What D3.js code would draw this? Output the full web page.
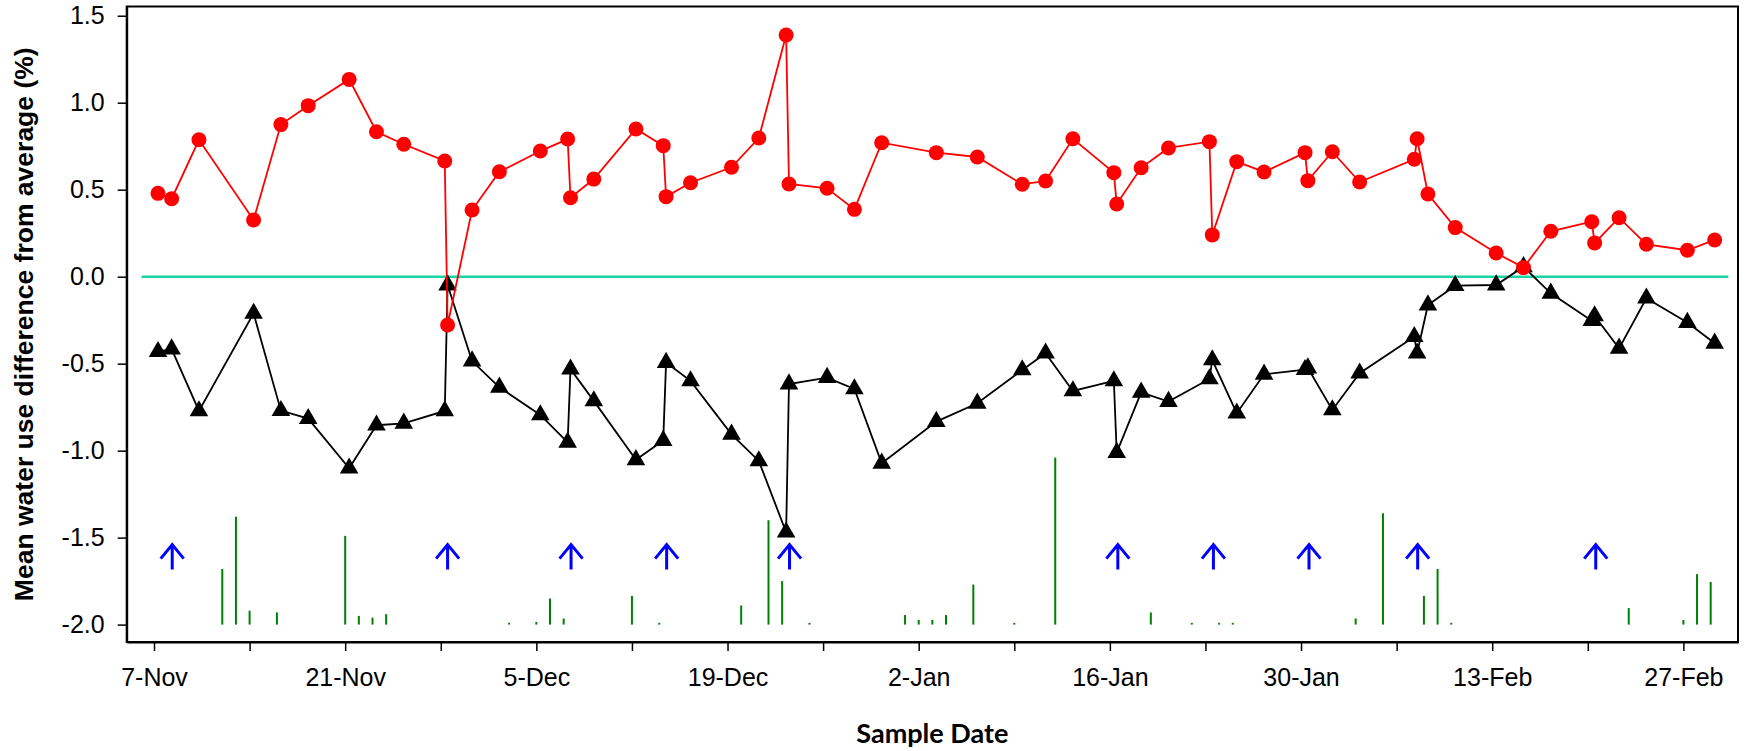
<!DOCTYPE html>
<html>
<head>
<meta charset="utf-8">
<script src="https://cdn.jsdelivr.net/npm/d3@7"></script>
<style>
body { margin: 0; background: #fff; }
</style>
</head>
<body>
<div id="contenedor"></div>
<script>

// fechas de muestreo, compartidas por las dos series
var fechas = [
  "2011-11-07 07:00","2011-11-08 07:00","2011-11-10 07:00","2011-11-14 07:00","2011-11-16 07:00",
  "2011-11-18 07:00","2011-11-21 07:00","2011-11-23 07:00","2011-11-25 07:00","2011-11-28 07:00",
  "2011-11-28 12:00","2011-11-30 07:00","2011-12-02 07:00","2011-12-05 07:00","2011-12-07 07:00",
  "2011-12-07 12:00","2011-12-09 05:00","2011-12-12 07:00","2011-12-14 07:00","2011-12-14 12:00",
  "2011-12-16 07:00","2011-12-19 07:00","2011-12-21 07:00","2011-12-23 07:00","2011-12-23 12:00",
  "2011-12-26 07:00","2011-12-28 07:00","2011-12-30 07:00","2012-01-03 07:00","2012-01-06 07:00",
  "2012-01-09 14:00","2012-01-11 07:00","2012-01-13 07:00","2012-01-16 07:00","2012-01-16 12:00",
  "2012-01-18 07:00","2012-01-20 07:00","2012-01-23 07:00","2012-01-23 12:00","2012-01-25 07:00",
  "2012-01-27 07:00","2012-01-30 07:00","2012-01-30 12:00","2012-02-01 07:00","2012-02-03 07:00",
  "2012-02-07 07:00","2012-02-07 12:00","2012-02-08 07:00","2012-02-10 07:00","2012-02-13 07:00",
  "2012-02-15 07:00","2012-02-17 07:00","2012-02-20 07:00","2012-02-20 12:00","2012-02-22 07:00",
  "2012-02-24 07:00","2012-02-27 07:00","2012-02-29 07:00"
]

// serie roja (circulos)
var serieRoja = [
  0.479, 0.448, 0.787, 0.326, 0.874, 0.983, 1.134, 0.833, 0.761, 0.665,
  -0.278, 0.383, 0.603, 0.722, 0.791, 0.454, 0.561, 0.849, 0.753, 0.460,
  0.540, 0.629, 0.797, 1.389, 0.533, 0.508, 0.387, 0.770, 0.713, 0.688,
  0.531, 0.550, 0.793, 0.598, 0.418, 0.626, 0.740, 0.776, 0.240, 0.661,
  0.602, 0.713, 0.552, 0.718, 0.544, 0.675, 0.793, 0.475, 0.282, 0.136,
  0.052, 0.261, 0.316, 0.194, 0.339, 0.186, 0.152, 0.211
]

// serie negra (triangulos)
var serieNegra = [
  -0.431, -0.416, -0.772, -0.211, -0.770, -0.816, -1.101, -0.854, -0.843, -0.772,
  -0.048, -0.485, -0.636, -0.795, -0.952, -0.532, -0.714, -1.053, -0.942, -0.494,
  -0.599, -0.906, -1.059, -1.469, -0.617, -0.580, -0.645, -1.073, -0.833, -0.728,
  -0.536, -0.440, -0.657, -0.599, -1.011, -0.665, -0.718, -0.588, -0.479, -0.785,
  -0.561, -0.535, -0.525, -0.766, -0.555, -0.345, -0.440, -0.163, -0.052, -0.048,
  0.057, -0.096, -0.253, -0.226, -0.412, -0.124, -0.264, -0.383
]

// lluvia diaria (altura de la barra, centesimas de unidad del eje)
var fechasLluvia = [
  "2011-11-12","2011-11-13","2011-11-14","2011-11-16","2011-11-21","2011-11-22","2011-11-23","2011-11-24",
  "2011-12-03","2011-12-05","2011-12-06","2011-12-07","2011-12-12","2011-12-14","2011-12-20","2011-12-22",
  "2011-12-23","2011-12-25","2012-01-01","2012-01-02","2012-01-03","2012-01-04","2012-01-06","2012-01-09",
  "2012-01-12","2012-01-19","2012-01-22","2012-01-24","2012-01-25","2012-02-03","2012-02-05","2012-02-08",
  "2012-02-09","2012-02-10","2012-02-23","2012-02-27","2012-02-28","2012-02-29"
]
var lluvia = [
  32, 62, 8, 7, 51, 5, 4, 6,
  1, 1.5, 15, 3.5, 16.5, 1, 11, 60,
  25, 1, 5.5, 2.7, 2.7, 5.5, 23, 1,
  96, 7, 1, 1, 1, 3.5, 64, 16.5,
  32, 1, 9.5, 2.7, 29, 24.5
]

// flechas azules
var fechasFlechas = [
  "2011-11-08 08:00","2011-11-28 12:00","2011-12-07 13:00","2011-12-14 13:00","2011-12-23 13:00",
  "2012-01-16 14:00","2012-01-23 14:00","2012-01-30 14:00","2012-02-07 13:00","2012-02-20 14:00"
]

var ticksY = [-2.0, -1.5, -1.0, -0.5, 0.0, 0.5, 1.0, 1.5]

var ancho = 1746
var alto = 751

var parseFecha = d3.timeParse("%Y-%m-%d %H:%M")
var parseDia = d3.timeParse("%Y-%m-%d")

var inicio = new Date(2011, 10, 5)
var fin = new Date(2012, 2, 2)

var escalaX = d3.scaleTime()
  .domain([inicio, fin])
  .range([126.7, 1738])

var escalaY = d3.scaleLinear()
  .domain([-2.1, 1.553])
  .range([642, 6.5])

var svg = d3.select("#contenedor")
  .append("svg")
  .attr("width", ancho)
  .attr("height", alto)
  .style("display", "block")

var puntosRojos = fechas.map(function(f, i) { return {fecha: parseFecha(f), valor: serieRoja[i]} })
var puntosNegros = fechas.map(function(f, i) { return {fecha: parseFecha(f), valor: serieNegra[i]} })

// caja
svg.append("rect")
  .attr("x", escalaX(inicio))
  .attr("y", escalaY(1.553))
  .attr("width", escalaX(fin) - escalaX(inicio))
  .attr("height", escalaY(-2.1) - escalaY(1.553))
  .attr("fill", "none")
  .attr("stroke", "#000")
  .attr("stroke-width", 2)

// linea de cero
svg.append("line")
  .attr("x1", escalaX(new Date(2011, 10, 6, 2)))
  .attr("x2", escalaX(new Date(2012, 2, 1, 7)))
  .attr("y1", escalaY(0))
  .attr("y2", escalaY(0))
  .attr("stroke", "#1fd4a4")
  .attr("stroke-width", 2.5)

// barras de lluvia
svg.selectAll(".lluvia")
  .data(fechasLluvia)
  .enter()
  .append("line")
  .attr("class", "lluvia")
  .attr("x1", function(d) { return escalaX(parseDia(d)) })
  .attr("x2", function(d) { return escalaX(parseDia(d)) })
  .attr("y1", escalaY(-2))
  .attr("y2", function(d, i) { return escalaY(-2 + lluvia[i] / 100) })
  .attr("stroke", "#008000")
  .attr("stroke-width", 2)

// flechas
var puntaFlecha = escalaY(-1.54)
var colaFlecha = escalaY(-1.683)
svg.selectAll(".flecha")
  .data(fechasFlechas)
  .enter()
  .append("path")
  .attr("class", "flecha")
  .attr("d", function(d) {
    var x = escalaX(parseFecha(d))
    return "M" + x + "," + colaFlecha + "L" + x + "," + (puntaFlecha + 1) +
      "M" + (x - 11.5) + "," + (puntaFlecha + 14) + "L" + x + "," + puntaFlecha + "L" + (x + 11.5) + "," + (puntaFlecha + 14)
  })
  .attr("fill", "none")
  .attr("stroke", "#0000ff")
  .attr("stroke-width", 3)

var linea = d3.line()
  .x(function(d) { return escalaX(d.fecha) })
  .y(function(d) { return escalaY(d.valor) })

// serie negra
svg.append("path")
  .datum(puntosNegros)
  .attr("d", linea)
  .attr("fill", "none")
  .attr("stroke", "#000")
  .attr("stroke-width", 1.8)

svg.selectAll(".triangulo")
  .data(puntosNegros)
  .enter()
  .append("path")
  .attr("class", "triangulo")
  .attr("d", d3.symbol(d3.symbolTriangle, 150))
  .attr("transform", function(d) { return "translate(" + escalaX(d.fecha) + "," + escalaY(d.valor) + ")" })
  .attr("fill", "#000")

// serie roja
svg.append("path")
  .datum(puntosRojos)
  .attr("d", linea)
  .attr("fill", "none")
  .attr("stroke", "#ff0000")
  .attr("stroke-width", 1.8)

svg.selectAll(".circulo")
  .data(puntosRojos)
  .enter()
  .append("circle")
  .attr("class", "circulo")
  .attr("cx", function(d) { return escalaX(d.fecha) })
  .attr("cy", function(d) { return escalaY(d.valor) })
  .attr("r", 7.5)
  .attr("fill", "#ff0000")

// ejes
var ticksX = d3.timeDay.range(new Date(2011, 10, 7), fin, 7)
var formatoX = d3.timeFormat("%-d-%b")

var ejeX = d3.axisBottom(escalaX)
  .tickValues(ticksX)
  .tickFormat(function(d, i) { return i % 2 == 0 ? formatoX(d) : "" })
  .tickSize(9)
  .tickSizeOuter(0)
  .tickPadding(17)

var ejeY = d3.axisLeft(escalaY)
  .tickValues(ticksY)
  .tickFormat(function(d) { return d.toFixed(1) })
  .tickSize(9)
  .tickSizeOuter(0)
  .tickPadding(13)

var gX = svg.append("g")
  .attr("transform", "translate(0," + escalaY(-2.1) + ")")
  .call(ejeX)

var gY = svg.append("g")
  .attr("transform", "translate(" + escalaX(inicio) + ",0)")
  .call(ejeY)

svg.selectAll(".domain").attr("stroke-width", 2)
svg.selectAll(".tick line").attr("stroke-width", 1.5)
svg.selectAll(".tick text")
  .attr("font-family", "'Liberation Sans', Arial, sans-serif")
  .attr("font-size", "25px")
  .attr("fill", "#000")

// titulos
svg.append("text")
  .attr("transform", "translate(33," + ((escalaY(1.553) + escalaY(-2.1)) / 2) + ") rotate(-90)")
  .attr("text-anchor", "middle")
  .attr("font-family", "'Liberation Sans', Arial, sans-serif")
  .attr("font-weight", "bold")
  .attr("font-size", "26.5px")
  .text("Mean water use difference from average (%)")

svg.append("text")
  .attr("x", (escalaX(inicio) + escalaX(fin)) / 2)
  .attr("y", 742.7)
  .attr("text-anchor", "middle")
  .attr("font-family", "Lato, 'Open Sans', sans-serif")
  .attr("font-weight", "bold")
  .attr("font-size", "27px")
  .text("Sample Date")

</script>
</body>
</html>
